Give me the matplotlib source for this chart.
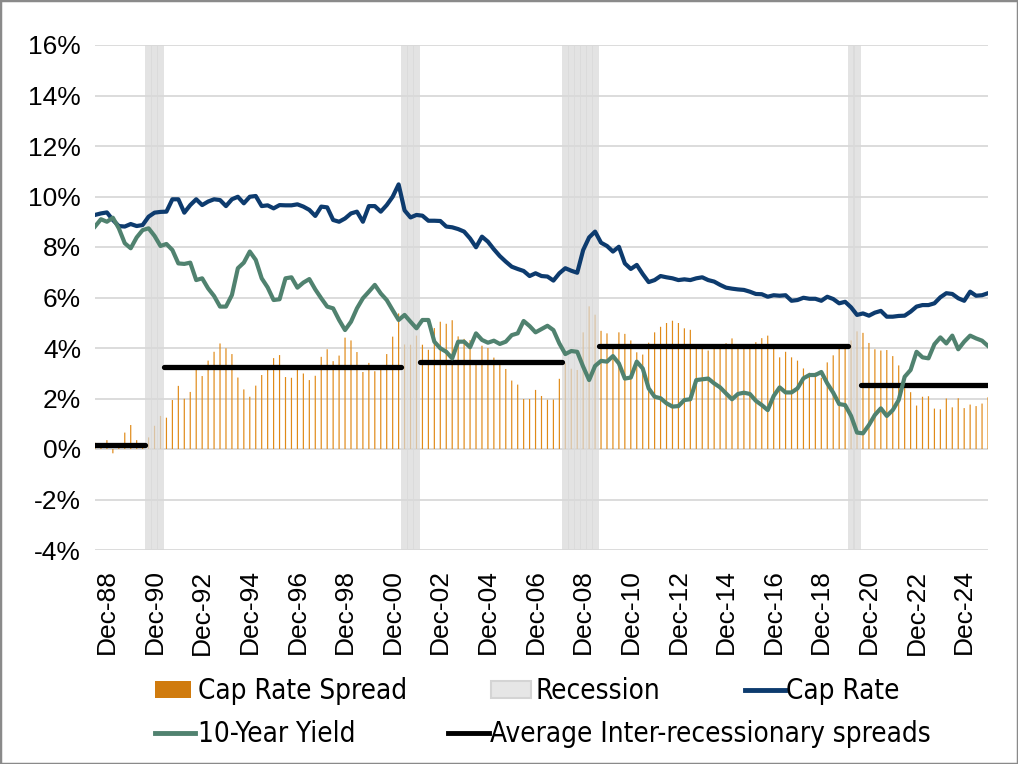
import matplotlib
matplotlib.use("Agg")
import matplotlib.pyplot as plt
from matplotlib import font_manager
from matplotlib.font_manager import FontProperties
from matplotlib.patches import Patch, Rectangle
from matplotlib.lines import Line2D
import numpy as np

plt.rcParams['axes.unicode_minus'] = False

# ---------------- data (quarterly, Jun-88 .. Dec-25) ----------------
cap_rate = [
    9.27, 9.33, 9.37, 9.07, 8.83, 8.81, 8.91, 8.83, 8.87, 9.20,
    9.36, 9.39, 9.40, 9.89, 9.89, 9.36, 9.66, 9.89, 9.66, 9.80,
    9.89, 9.86, 9.62, 9.89, 9.99, 9.73, 9.99, 10.02, 9.62, 9.65,
    9.53, 9.66, 9.65, 9.65, 9.69, 9.60, 9.47, 9.23, 9.60, 9.57,
    9.07, 9.00, 9.13, 9.33, 9.40, 9.00, 9.62, 9.62, 9.40, 9.66,
    9.99, 10.48, 9.45, 9.17, 9.27, 9.24, 9.04, 9.04, 9.03, 8.81,
    8.78, 8.71, 8.61, 8.34, 7.99, 8.41, 8.21, 7.91, 7.64, 7.42,
    7.22, 7.13, 7.05, 6.85, 6.96, 6.85, 6.83, 6.67, 6.96, 7.16,
    7.06, 6.98, 7.88, 8.38, 8.61, 8.17, 8.04, 7.82, 8.01, 7.35,
    7.13, 7.29, 6.93, 6.61, 6.69, 6.85, 6.80, 6.76, 6.69, 6.72,
    6.69, 6.76, 6.80, 6.69, 6.63, 6.50, 6.39, 6.35, 6.32, 6.30,
    6.23, 6.14, 6.13, 6.03, 6.09, 6.07, 6.09, 5.87, 5.90, 5.99,
    5.95, 5.95, 5.87, 6.03, 5.94, 5.77, 5.83, 5.61, 5.31, 5.37,
    5.28, 5.40, 5.47, 5.24, 5.24, 5.27, 5.28, 5.44, 5.64, 5.70,
    5.70, 5.77, 6.01, 6.17, 6.14, 5.97, 5.87, 6.23, 6.07, 6.09,
    6.17,
]

ten_year = [
    8.81, 9.10, 9.00, 9.16, 8.74, 8.15, 7.95, 8.38, 8.67, 8.74,
    8.44, 8.04, 8.12, 7.88, 7.35, 7.33, 7.38, 6.69, 6.76, 6.36,
    6.06, 5.64, 5.64, 6.10, 7.16, 7.38, 7.82, 7.49, 6.76, 6.40,
    5.90, 5.93, 6.76, 6.80, 6.39, 6.59, 6.73, 6.32, 5.97, 5.64,
    5.57, 5.11, 4.71, 5.04, 5.57, 5.97, 6.23, 6.50, 6.16, 5.90,
    5.50, 5.11, 5.31, 5.04, 4.78, 5.11, 5.11, 4.25, 3.99, 3.85,
    3.59, 4.25, 4.25, 4.03, 4.58, 4.32, 4.21, 4.29, 4.16, 4.25,
    4.51, 4.58, 5.07, 4.87, 4.62, 4.75, 4.88, 4.71, 4.18, 3.76,
    3.88, 3.85, 3.26, 2.73, 3.29, 3.49, 3.46, 3.68, 3.39, 2.79,
    2.83, 3.46, 3.19, 2.40, 2.07, 2.01, 1.81, 1.68, 1.70, 1.94,
    1.97, 2.73, 2.76, 2.79, 2.60, 2.44, 2.20, 1.97, 2.18, 2.23,
    2.18, 1.91, 1.74, 1.54, 2.10, 2.44, 2.24, 2.24, 2.40, 2.80,
    2.93, 2.93, 3.05, 2.60, 2.23, 1.78, 1.74, 1.31, 0.65, 0.62,
    0.95, 1.35, 1.61, 1.31, 1.54, 1.94, 2.86, 3.13, 3.85, 3.63,
    3.59, 4.15, 4.42, 4.18, 4.49, 3.95, 4.25, 4.49, 4.38, 4.29,
    4.08,
]

spread = [
    0.25, 0.10, 0.35, -0.17, 0.05, 0.65, 0.95, 0.35, 0.15, 0.46,
    0.92, 1.31, 1.24, 1.94, 2.50, 1.99, 2.26, 3.18, 2.89, 3.50,
    3.85, 4.18, 3.99, 3.76, 2.83, 2.36, 2.07, 2.51, 2.93, 3.16,
    3.60, 3.72, 2.85, 2.82, 3.22, 2.99, 2.73, 2.90, 3.65, 3.95,
    3.48, 3.70, 4.41, 4.30, 3.84, 3.05, 3.41, 3.08, 3.21, 3.76,
    4.45, 5.37, 4.14, 4.13, 4.49, 4.13, 3.93, 4.79, 5.04, 4.96,
    5.10, 4.46, 4.36, 4.31, 3.41, 4.09, 4.00, 3.62, 3.48, 3.17,
    2.71, 2.55, 1.98, 1.98, 2.34, 2.10, 1.95, 1.96, 2.78, 3.40,
    3.18, 3.13, 4.62, 5.65, 5.32, 4.68, 4.58, 4.14, 4.62, 4.56,
    4.30, 3.83, 3.74, 4.21, 4.62, 4.84, 4.99, 5.08, 4.99, 4.78,
    4.72, 4.03, 4.04, 3.90, 4.03, 4.06, 4.19, 4.38, 4.14, 4.07,
    4.05, 4.23, 4.39, 4.49, 3.99, 3.63, 3.85, 3.63, 3.50, 3.19,
    3.02, 3.02, 2.82, 3.43, 3.71, 3.99, 4.09, 4.30, 4.66, 4.60,
    4.20, 3.95, 3.90, 3.92, 3.68, 3.31, 2.41, 2.25, 1.72, 2.07,
    2.09, 1.60, 1.57, 2.00, 1.65, 2.01, 1.62, 1.76, 1.70, 1.80,
    2.05,
]

# recession quarters (index into the quarterly series)
recession_quarters = [9, 10, 11, 52, 53, 54, 79, 80, 81, 82, 83, 84, 127, 128]

# average inter-recessionary spreads: period start/end (quarter index) and level
avg_start = [0.0, 11.6, 54.6, 84.6, 128.6]
avg_end = [8.4, 51.4, 78.4, 126.4, 150.0]
avg_value = [0.17, 3.24, 3.46, 4.08, 2.52]

x_tick_labels = ['Dec-88', 'Dec-90', 'Dec-92', 'Dec-94', 'Dec-96', 'Dec-98',
                 'Dec-00', 'Dec-02', 'Dec-04', 'Dec-06', 'Dec-08', 'Dec-10',
                 'Dec-12', 'Dec-14', 'Dec-16', 'Dec-18', 'Dec-20', 'Dec-22',
                 'Dec-24']
y_tick_values = [-4, -2, 0, 2, 4, 6, 8, 10, 12, 14, 16]
y_tick_labels = ['-4%', '-2%', '0%', '2%', '4%', '6%', '8%', '10%', '12%', '14%', '16%']

# ---------------- colours ----------------
C_CAP = '#0d3b6e'
C_TSY = '#50826f'
C_BAR = '#e08a18'
C_REC = '#d9d9d9'
C_GRID = '#d9d9d9'

# ---------------- fonts ----------------
names = {f.name for f in font_manager.fontManager.ttflist}
tick_family = 'Liberation Sans' if 'Liberation Sans' in names else 'DejaVu Sans'
if 'Liberation Sans Narrow' in names:
    leg_prop = FontProperties(family='Liberation Sans Narrow', size=25)
else:
    leg_prop = FontProperties(family='DejaVu Sans', stretch='condensed', size=20)

W, H = 1018, 764
fig = plt.figure(figsize=(W / 100, H / 100), dpi=100)
fig.patch.set_facecolor('white')
ax = fig.add_axes([95 / W, 1 - 550 / H, 893 / W, 505 / H])

x = np.arange(len(cap_rate))

ax.bar(x, spread, width=0.2, color=C_BAR, linewidth=0, zorder=2, snap=False)
ax.bar(recession_quarters, [20] * len(recession_quarters), bottom=-4, width=1.2,
       color=C_REC, alpha=0.72, linewidth=0, zorder=3)
for s, e, v in zip(avg_start, avg_end, avg_value):
    ax.plot([s, e], [v, v], color='black', lw=3.8, solid_capstyle='round', zorder=4)
ax.plot(x, cap_rate, color=C_CAP, lw=3.0, solid_joinstyle='round', zorder=5)
ax.plot(x, ten_year, color=C_TSY, lw=3.0, solid_joinstyle='round', zorder=6)

ax.set_xlim(0, len(cap_rate) - 1)
ax.set_ylim(-4, 16)
ax.set_yticks(y_tick_values)
ax.set_yticklabels(y_tick_labels, fontfamily=tick_family)
ax.set_xticks([2 + 8 * k for k in range(len(x_tick_labels))])
ax.set_xticklabels(x_tick_labels, rotation=90, fontfamily=tick_family)
ax.tick_params(axis='both', length=0, labelsize=19, colors='black')
ax.tick_params(axis='x', pad=14)
ax.tick_params(axis='y', pad=10)
ax.grid(axis='y', color=C_GRID, lw=1.3, zorder=0)
ax.set_axisbelow(True)
for sp in ax.spines.values():
    sp.set_visible(False)

# ---------------- legend (Excel-like flow layout) ----------------
def add_entry(handle, label, xp, yp, hl, pad):
    fig.legend([handle], [label], loc='center left',
               bbox_to_anchor=(xp / W, 1 - yp / H), frameon=False, prop=leg_prop,
               handlelength=hl, handletextpad=pad, borderpad=0, borderaxespad=0,
               handleheight=0.55)

fs = leg_prop.get_size_in_points() * 100 / 72
add_entry(Patch(facecolor='#d07b0e', edgecolor='none'), 'Cap Rate Spread', 155, 691, 36 / fs, 7 / fs)
add_entry(Patch(facecolor='#e6e6e6', edgecolor='#d4d4d4', lw=1.5), 'Recession', 491, 691, 40 / fs, 4 / fs)
add_entry(Line2D([], [], color=C_CAP, lw=3.5), 'Cap Rate', 745, 691, 40 / fs, 1 / fs)
add_entry(Line2D([], [], color=C_TSY, lw=3.5), '10-Year Yield', 155, 734, 40 / fs, 3 / fs)
add_entry(Line2D([], [], color='black', lw=3.5), 'Average Inter-recessionary spreads', 448, 734, 41 / fs, 1 / fs)

fig.add_artist(Rectangle((0, 0), 1, 1, transform=fig.transFigure, fill=False,
                         edgecolor='#8a8a8a', lw=2.5))

fig.savefig('out.png', dpi=100, facecolor='white')
